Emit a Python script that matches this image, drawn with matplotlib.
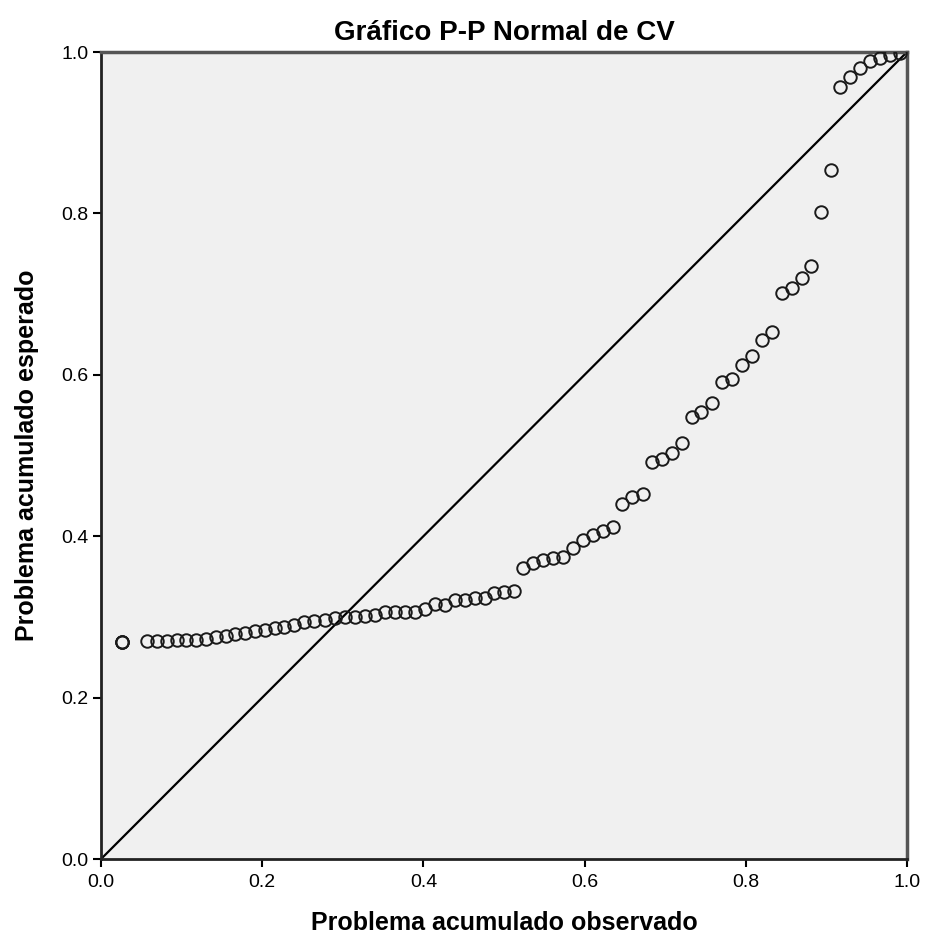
import matplotlib
matplotlib.use("Agg")
import matplotlib.pyplot as plt

plt.rcParams['font.family'] = ['Liberation Sans', 'DejaVu Sans']

# observed cumulative probability (x) and expected cumulative probability (y)
observed = [0.026, 0.026, 0.026,
            0.057, 0.069, 0.082, 0.094, 0.105, 0.118, 0.130, 0.143, 0.155, 0.166,
            0.179, 0.191, 0.203, 0.216, 0.227, 0.239,
            0.252, 0.264, 0.278, 0.290, 0.303, 0.315, 0.328, 0.340, 0.352, 0.365,
            0.377, 0.390, 0.402, 0.414, 0.427, 0.439, 0.452, 0.464, 0.476, 0.488,
            0.500, 0.512,
            0.524, 0.536, 0.548, 0.561, 0.573, 0.586, 0.598, 0.610, 0.623, 0.635,
            0.646, 0.659, 0.672, 0.684, 0.696, 0.708, 0.721, 0.733, 0.745, 0.758,
            0.770, 0.783, 0.795, 0.808, 0.820, 0.833, 0.845, 0.857, 0.870, 0.881,
            0.893, 0.906, 0.917, 0.929, 0.942, 0.954, 0.967, 0.979, 0.991]
expected = [0.269, 0.269, 0.269,
            0.270, 0.270, 0.270, 0.271, 0.271, 0.272, 0.273, 0.275, 0.276, 0.279,
            0.280, 0.283, 0.284, 0.286, 0.287, 0.290,
            0.294, 0.295, 0.296, 0.299, 0.300, 0.300, 0.301, 0.302, 0.306, 0.306,
            0.306, 0.306, 0.310, 0.316, 0.315, 0.321, 0.321, 0.323, 0.323, 0.330,
            0.331, 0.332,
            0.361, 0.367, 0.371, 0.373, 0.374, 0.385, 0.395, 0.401, 0.406, 0.411,
            0.440, 0.449, 0.452, 0.492, 0.496, 0.503, 0.515, 0.548, 0.554, 0.565,
            0.591, 0.595, 0.612, 0.623, 0.643, 0.653, 0.701, 0.708, 0.720, 0.735,
            0.802, 0.854, 0.957, 0.969, 0.980, 0.989, 0.993, 0.996, 0.999]

ticks = [0.0, 0.2, 0.4, 0.6, 0.8, 1.0]
tick_labels = ['0.0', '0.2', '0.4', '0.6', '0.8', '1.0']

fig = plt.figure(figsize=(9.25, 9.49), dpi=100)
ax = fig.add_axes([0.1092, 0.0948, 0.8713, 0.8504])
ax.set_facecolor('#f0f0f0')

ax.plot([0, 1], [0, 1], color='black', lw=1.6, zorder=2)
ax.plot(observed, expected, linestyle='none', marker='o', ms=9,
        mfc='none', mec='#1a1a1a', mew=1.4, zorder=3)

ax.set_xlim(0, 1)
ax.set_ylim(0, 1)
ax.set_xticks(ticks)
ax.set_xticklabels(tick_labels)
ax.set_yticks(ticks)
ax.set_yticklabels(tick_labels)
ax.tick_params(direction='out', length=6, width=1.5, labelsize=14, pad=5)
ax.tick_params(axis='y', pad=3)

for side in ['left', 'bottom']:
    ax.spines[side].set_linewidth(2)
    ax.spines[side].set_color('#222222')
for side in ['top', 'right']:
    ax.spines[side].set_linewidth(2.5)
    ax.spines[side].set_color('#555555')

ax.set_title('Gráfico P-P Normal de CV', fontsize=20, fontweight='bold', pad=9)
ax.set_xlabel('Problema acumulado observado', fontsize=18, fontweight='bold', labelpad=14)
ax.set_ylabel('Problema acumulado esperado', fontsize=18, fontweight='bold', labelpad=16)

fig.savefig('out.png', dpi=100)
